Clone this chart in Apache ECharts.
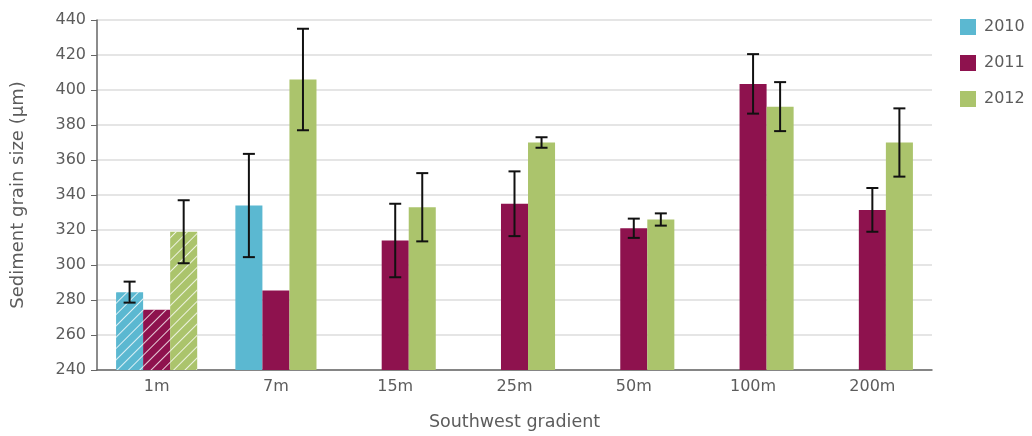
<!DOCTYPE html>
<html>
<head>
<meta charset="utf-8">
<script src="https://cdn.jsdelivr.net/npm/echarts@6/dist/echarts.min.js"></script>
<style>
  html, body { margin: 0; padding: 0; background: #fff; overflow: hidden; }
  #chart { width: 1032px; height: 436px; }
</style>
</head>
<body>
<div id="chart"></div>
<script>
// Sampling stations along the southwest gradient
const categories = ['1m', '7m', '15m', '25m', '50m', '100m', '200m'];
const years = ['2010', '2011', '2012'];

// Mean sediment grain size (µm) per station and year
const mean2010 = [284.5, 334, null, null, null, null, null];
const mean2011 = [274.5, 285.5, 314, 335, 321, 403.5, 331.5];
const mean2012 = [319, 406, 333, 370, 326, 390.5, 370];

// Error bar half-widths (µm); null where no error bar is shown
const err2010 = [6, 29.5, null, null, null, null, null];
const err2011 = [null, null, 21, 18.5, 5.5, 17, 12.5];
const err2012 = [18, 29, 19.5, 3, 3.5, 14, 19.5];

const yTicks = { min: 240, max: 440, interval: 20 };

const colors = ['#5bb8d1', '#8e124e', '#abc46c'];
const textColor = '#5c5c5c';
const font = '"DejaVu Sans", sans-serif';

// Station 1m is drawn with a white diagonal hatch
const hatched = [0];
const hatchDecal = {
  symbol: 'rect',
  symbolSize: 1,
  dashArrayX: [1, 0],
  dashArrayY: [1, 7],
  rotation: -Math.PI / 4,
  color: 'rgba(255,255,255,0.8)'
};

function barData(values) {
  return values.map((v, i) => {
    if (v == null) return null;
    if (hatched.includes(i)) return { value: v, itemStyle: { decal: hatchDecal } };
    return v;
  });
}

const means = [mean2010, mean2011, mean2012];
const errs = [err2010, err2011, err2012];

// [category index, low, high, series index]
const errorData = [];
errs.forEach((arr, s) => {
  arr.forEach((e, i) => {
    if (e != null && means[s][i] != null) {
      errorData.push([i, means[s][i] - e, means[s][i] + e, s]);
    }
  });
});

const catGap = 0.32;

const chart = echarts.init(document.getElementById('chart'), null, { renderer: 'canvas' });

chart.setOption({
  animation: false,
  color: colors,
  textStyle: { fontFamily: font },
  grid: { left: 97, right: 100, top: 20, bottom: 62 },
  legend: {
    orient: 'vertical',
    left: 960,
    top: 19,
    padding: 0,
    itemWidth: 16,
    itemHeight: 16,
    itemGap: 20,
    icon: 'rect',
    textStyle: {
      color: textColor, fontSize: 16, fontFamily: font,
      lineHeight: 16, padding: [0, 0, 0, 3]
    },
    data: years
  },
  xAxis: {
    type: 'category',
    data: categories,
    name: 'Southwest gradient',
    nameLocation: 'middle',
    nameGap: 43,
    nameTextStyle: { color: textColor, fontSize: 17.5, fontFamily: font },
    axisLine: { lineStyle: { color: '#666666', width: 1.5 } },
    axisTick: { show: false },
    axisLabel: { color: textColor, fontSize: 16, margin: 9, fontFamily: font }
  },
  yAxis: {
    type: 'value',
    min: yTicks.min,
    max: yTicks.max,
    interval: yTicks.interval,
    name: 'Sediment grain size (µm)',
    nameLocation: 'middle',
    nameGap: 70,
    nameTextStyle: { color: textColor, fontSize: 18, fontFamily: font },
    axisLine: { show: true, lineStyle: { color: '#666666', width: 1.5 } },
    axisTick: { show: true, length: 6, lineStyle: { color: '#666666' } },
    axisLabel: { color: textColor, fontSize: 16, margin: 11, fontFamily: font },
    splitLine: { lineStyle: { color: '#dddddd', width: 1.5 } }
  },
  series: [
    ...years.map((y, s) => ({
      name: y,
      type: 'bar',
      data: barData(means[s]),
      barGap: '0%',
      barCategoryGap: (catGap * 100) + '%',
      itemStyle: { color: colors[s] }
    })),
    {
      type: 'custom',
      name: 'error',
      data: errorData,
      z: 10,
      renderItem: function (params, api) {
        const idx = api.value(0);
        const lo = api.coord([idx, api.value(1)]);
        const hi = api.coord([idx, api.value(2)]);
        const catW = api.size([1, 0])[0];
        const bw = catW * (1 - catGap) / 3;
        const cx = lo[0] + (api.value(3) - 1) * bw;
        const half = 6;
        const style = { stroke: '#111111', lineWidth: 2 };
        return {
          type: 'group',
          children: [
            { type: 'line', shape: { x1: cx, y1: hi[1], x2: cx, y2: lo[1] }, style },
            { type: 'line', shape: { x1: cx - half, y1: hi[1], x2: cx + half, y2: hi[1] }, style },
            { type: 'line', shape: { x1: cx - half, y1: lo[1], x2: cx + half, y2: lo[1] }, style }
          ]
        };
      }
    }
  ]
});
</script>
</body>
</html>
